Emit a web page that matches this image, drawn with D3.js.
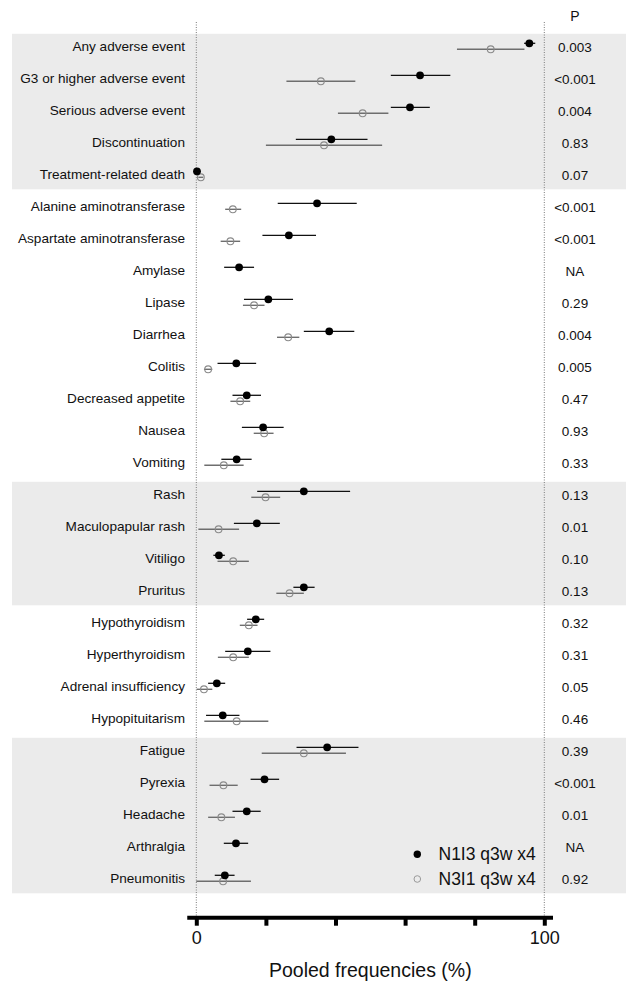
<!DOCTYPE html>
<html>
<head>
<meta charset="utf-8">
<script src="https://cdn.jsdelivr.net/npm/d3@7"></script>
<style>
  html, body { margin: 0; padding: 0; background: #ffffff; }
  svg { display: block; font-family: "Liberation Sans", Arial, sans-serif; }
</style>
</head>
<body>
<svg id="chart" width="630" height="993"></svg>
<script>
// ---- data ----
const categories = [
  "Any adverse event", "G3 or higher adverse event", "Serious adverse event", "Discontinuation", "Treatment-related death",
  "Alanine aminotransferase", "Aspartate aminotransferase", "Amylase", "Lipase", "Diarrhea", "Colitis",
  "Decreased appetite", "Nausea", "Vomiting",
  "Rash", "Maculopapular rash", "Vitiligo", "Pruritus",
  "Hypothyroidism", "Hyperthyroidism", "Adrenal insufficiency", "Hypopituitarism",
  "Fatigue", "Pyrexia", "Headache", "Arthralgia", "Pneumonitis"
];
// N1I3 q3w x4 (filled): estimate, lower, upper
const n1i3 = [95.7, 64.3, 61.4, 38.8, 0.2, 34.7, 26.6, 12.3, 20.7, 38.2, 11.5, 14.5, 19.2, 11.6,
  30.9, 17.4, 6.5, 30.9, 17.1, 14.8, 5.9, 7.6, 37.6, 19.6, 14.5, 11.4, 8.2];
const n1i3Low = [94.2, 55.9, 55.9, 28.6, 0.0, 23.4, 19.0, 8.0, 13.7, 30.9, 6.1, 10.4, 13.1, 7.2,
  17.5, 10.8, 4.9, 27.9, 14.6, 8.3, 3.4, 2.8, 28.8, 15.6, 10.4, 7.9, 5.3];
const n1i3High = [97.4, 73.0, 67.1, 49.2, 0.5, 46.1, 34.4, 16.6, 27.8, 45.4, 17.2, 18.6, 25.1, 15.9,
  44.2, 24.0, 8.2, 34.0, 19.5, 21.3, 8.3, 12.4, 46.6, 23.8, 18.5, 14.9, 11.0];
// N3I1 q3w x4 (open): null = not reported
const n3i1 = [84.6, 35.8, 47.8, 36.7, 1.3, 10.5, 9.8, null, 16.6, 26.4, 3.4, 12.6, 19.5, 7.9,
  19.9, 6.4, 10.6, 26.8, 15.1, 10.6, 2.2, 11.6, 30.9, 7.8, 7.2, null, 7.7];
const n3i1Low = [74.9, 25.9, 40.7, 20.0, 0.6, 8.3, 7.0, null, 13.4, 23.2, 2.2, 9.8, 16.5, 2.3,
  15.8, 0.6, 6.1, 23.0, 12.5, 6.2, 0.1, 2.3, 18.8, 3.8, 3.4, null, 0.0];
const n3i1High = [94.3, 45.7, 55.2, 53.4, 2.0, 12.9, 12.6, null, 19.6, 29.6, 4.6, 15.5, 22.2, 13.6,
  24.1, 12.3, 15.1, 30.9, 17.6, 15.1, 4.6, 20.7, 43.0, 11.9, 11.1, null, 15.7];
const pValues = ["0.003", "<0.001", "0.004", "0.83", "0.07", "<0.001", "<0.001", "NA", "0.29", "0.004", "0.005",
  "0.47", "0.93", "0.33", "0.13", "0.01", "0.10", "0.13", "0.32", "0.31", "0.05", "0.46",
  "0.39", "<0.001", "0.01", "NA", "0.92"];
// shaded groups (first and last category)
const shadedGroups = [
  ["Any adverse event", "Treatment-related death"],
  ["Rash", "Pruritus"],
  ["Fatigue", "Pneumonitis"]
];
const xTicks = [0, 20, 40, 60, 80, 100];
const xTickLabels = ["0", "", "", "", "", "100"];
const seriesNames = ["N1I3 q3w x4", "N3I1 q3w x4"];
const axisTitle = "Pooled frequencies (%)";

// ---- layout ----
const svg = d3.select("#chart");
const x = d3.scaleLinear().domain([0, 100]).range([196.3, 544.3]);
const y = d3.scalePoint().domain(categories).range([46.3, 46.3 + 32 * (categories.length - 1)]);
const axisY = 917.7;
const pX = 575;
const off = 3;

// shaded bands
svg.append("g").selectAll("rect").data(shadedGroups).join("rect")
  .attr("x", 12).attr("width", 614)
  .attr("y", d => y(d[0]) - 12.5)
  .attr("height", d => y(d[1]) - y(d[0]) + 12.5 + 15)
  .attr("fill", "#ebebeb");

// dotted reference lines at 0 and 100
svg.append("g").selectAll("line").data([0, 100]).join("line")
  .attr("x1", d => x(d)).attr("x2", d => x(d))
  .attr("y1", 22).attr("y2", axisY)
  .attr("stroke", "#7a7a7a").attr("stroke-width", 1).attr("stroke-dasharray", "1,1.5");

// category labels
svg.append("g").selectAll("text").data(categories).join("text")
  .attr("x", 185).attr("y", d => y(d))
  .attr("text-anchor", "end").attr("dominant-baseline", "central")
  .attr("font-size", 13.6).attr("fill", "#111")
  .text(d => d);

// P values
svg.append("text").attr("x", pX).attr("y", 16).attr("text-anchor", "middle")
  .attr("dominant-baseline", "central").attr("font-size", 14).attr("fill", "#111").text("P");
svg.append("g").selectAll("text").data(pValues).join("text")
  .attr("x", pX).attr("y", (d, i) => y(categories[i]) + 1)
  .attr("text-anchor", "middle").attr("dominant-baseline", "central")
  .attr("font-size", 13.5).attr("fill", "#111")
  .text(d => d);

// open series (N3I1)
const openIdx = d3.range(categories.length).filter(i => n3i1[i] !== null);
const gOpen = svg.append("g");
gOpen.selectAll("line").data(openIdx).join("line")
  .attr("x1", i => x(n3i1Low[i])).attr("x2", i => x(n3i1High[i]))
  .attr("y1", i => y(categories[i]) + off).attr("y2", i => y(categories[i]) + off)
  .attr("stroke", "#6e6e6e").attr("stroke-width", 1.4);
gOpen.selectAll("circle").data(openIdx).join("circle")
  .attr("cx", i => x(n3i1[i])).attr("cy", i => y(categories[i]) + off)
  .attr("r", 3.4).attr("fill", "#ebebeb").attr("fill-opacity", 0)
  .attr("stroke", "#8a8a8a").attr("stroke-width", 1.1);

// filled series (N1I3)
const fillIdx = d3.range(categories.length);
const gFill = svg.append("g");
gFill.selectAll("line").data(fillIdx).join("line")
  .attr("x1", i => x(n1i3Low[i])).attr("x2", i => x(n1i3High[i]))
  .attr("y1", i => y(categories[i]) - off).attr("y2", i => y(categories[i]) - off)
  .attr("stroke", "#111").attr("stroke-width", 1.3);
gFill.selectAll("circle").data(fillIdx).join("circle")
  .attr("cx", i => x(n1i3[i])).attr("cy", i => y(categories[i]) - off)
  .attr("r", 3.9).attr("fill", "#000");

// legend
const legY = [854.3, 879];
const leg = svg.append("g");
leg.append("circle").attr("cx", 417.3).attr("cy", legY[0]).attr("r", 3.7).attr("fill", "#000");
leg.append("circle").attr("cx", 417.3).attr("cy", legY[1]).attr("r", 3.3)
  .attr("fill", "none").attr("stroke", "#9a9a9a").attr("stroke-width", 1);
leg.selectAll("text").data(seriesNames).join("text")
  .attr("x", 438.5).attr("y", (d, i) => legY[i])
  .attr("dominant-baseline", "central").attr("font-size", 17.5).attr("fill", "#111")
  .text(d => d);

// x axis
const axis = d3.axisBottom(x).tickValues(xTicks).tickSize(8).tickPadding(6)
  .tickFormat((d, i) => xTickLabels[i]);
const gAxis = svg.append("g").attr("transform", `translate(0,${axisY})`).call(axis);
gAxis.select(".domain").remove();
gAxis.insert("line", ":first-child")
  .attr("x1", x(-2.6)).attr("x2", x(102.5)).attr("y1", 0).attr("y2", 0)
  .attr("stroke", "#000").attr("stroke-width", 4);
gAxis.selectAll(".tick line").attr("stroke", "#000").attr("stroke-width", 4);
gAxis.selectAll(".tick text").attr("font-size", 18).attr("fill", "#111")
  .attr("font-family", "Liberation Sans, Arial, sans-serif");

svg.append("text").attr("x", (x(0) + x(100)) / 2).attr("y", 970)
  .attr("text-anchor", "middle").attr("dominant-baseline", "central")
  .attr("font-size", 19.5).attr("fill", "#111").text(axisTitle);
</script>
</body>
</html>
